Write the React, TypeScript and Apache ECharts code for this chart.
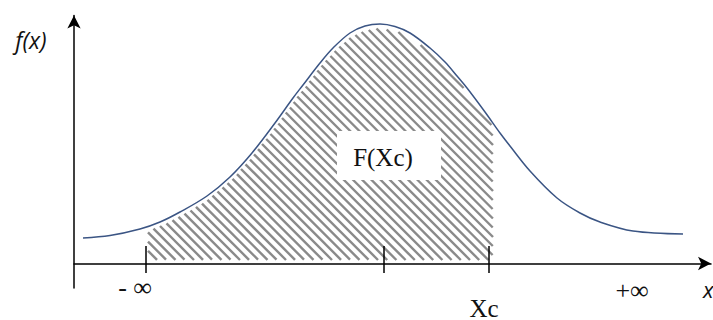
import React, { useEffect, useRef } from "react";
import * as echarts from "echarts";

// Density curve f(x), sampled along the horizontal axis.
const curveX = [9, 36, 66, 86, 106, 133, 156, 178, 201, 219, 229, 246, 259, 276, 291, 306, 321, 336, 356, 371, 383, 393, 411, 426, 436, 456, 483, 506, 526, 559, 609];
const curveY = [25.5, 28, 34.5, 41.5, 51.5, 67.5, 86.5, 110.5, 140.5, 165.5, 178.5, 200.5, 215.5, 230.5, 237.5, 239.5, 237, 230.5, 215.5, 201.5, 187.5, 175.5, 151.5, 130.5, 117.5, 92.5, 65.5, 50.5, 41.5, 32.5, 29.5];

// Tick marks on the x axis: -inf, mean, Xc
const tickValues = [71.7, 310, 414.7];
const tickTop = 17.5;
const tickBottom = -9.5;

// Shaded region F(Xc): from -inf up to Xc, under the curve
const hatchFrom = 74;
const hatchTo = 419;
const hatchBase = 3.5;
const hatchInset = 4;

const xMax = 637;
const yMin = -24.5;
const yMax = 248;

export default function App() {
  const ref = useRef<HTMLDivElement>(null);

  useEffect(() => {
    const chart = echarts.init(ref.current!, null, { renderer: "svg" });
    const curve = curveX.map((x, i) => [x, curveY[i]]);

    const renderHatch = (_params: any, api: any) => {
      const pts = curve.map((p) => api.coord(p));
      const yb = api.coord([0, hatchBase])[1];
      const xa = api.coord([hatchFrom, 0])[0];
      const xb = api.coord([hatchTo, 0])[0];
      const inset = api.coord([0, 0])[1] - api.coord([0, hatchInset])[1];
      const topAt = (px: number) => {
        for (let i = 0; i < pts.length - 1; i++) {
          const [x1, y1] = pts[i];
          const [x2, y2] = pts[i + 1];
          if (px >= x1 && px <= x2) {
            return y1 + ((y2 - y1) * (px - x1)) / (x2 - x1);
          }
        }
        return yb;
      };
      const minTop = Math.min(...pts.map((p: number[]) => p[1]));
      const h = yb - minTop;
      const period = 9.2;
      const children: any[] = [];
      const stripe = (a: number[], b: number[]) =>
        children.push({
          type: "line",
          shape: { x1: a[0], y1: a[1], x2: b[0], y2: b[1] },
          style: { stroke: "#8a8a8a", lineWidth: 2.4 },
        });
      for (let s = xa; s <= xb + h; s += period) {
        let start: number[] | null = null;
        let last: number[] | null = null;
        const from = Math.max(xa, s - h);
        const to = Math.min(xb, s);
        for (let px = from; px <= to + 1e-6; px += 0.5) {
          const py = yb - (s - px);
          if (py >= topAt(px) + inset) {
            if (!start) start = [px, py];
            last = [px, py];
          } else if (start && last) {
            stripe(start, last);
            start = null;
          }
        }
        if (start && last) stripe(start, last);
      }
      return { type: "group", children };
    };

    const axisLine = {
      show: true,
      onZero: true,
      symbol: ["none", "arrow"],
      symbolSize: [10, 13],
      lineStyle: { color: "#000", width: 1.5 },
    };

    const label = (text: string, x: number, y: number, font: string, align = "center") => ({
      type: "text",
      z: 101,
      style: {
        text,
        x,
        y,
        font,
        fill: "#111",
        textAlign: align,
        textVerticalAlign: "middle",
      },
    });

    chart.setOption({
      animation: false,
      grid: { left: 74, right: 2, top: 15.5, bottom: 32, containLabel: false },
      xAxis: {
        type: "value",
        min: 0,
        max: xMax,
        axisLine,
        axisTick: { show: false },
        axisLabel: { show: false },
        splitLine: { show: false },
      },
      yAxis: {
        type: "value",
        min: yMin,
        max: yMax,
        axisLine,
        axisTick: { show: false },
        axisLabel: { show: false },
        splitLine: { show: false },
      },
      series: [
        {
          type: "custom",
          data: [[0, 0]],
          silent: true,
          clip: false,
          z: 1,
          renderItem: renderHatch,
        },
        {
          type: "line",
          data: curve,
          smooth: 0.35,
          showSymbol: false,
          silent: true,
          z: 3,
          lineStyle: { color: "#3b5584", width: 1.5 },
          markLine: {
            silent: true,
            symbol: ["none", "none"],
            label: { show: false },
            lineStyle: { color: "#000", width: 1.5, type: "solid" },
            data: tickValues.map((v) => [
              { coord: [v, tickTop] },
              { coord: [v, tickBottom] },
            ]),
          },
        },
      ],
      graphic: [
        {
          type: "rect",
          z: 100,
          shape: { x: 337, y: 131, width: 104, height: 49 },
          style: { fill: "#fff" },
        },
        label("F(Xc)", 383, 157, '25px "Liberation Serif"'),
        label("f(x)", 31, 40, 'italic 23px "Open Sans"'),
        label("- ∞", 135, 287, '26px "Liberation Serif"'),
        label("Xc", 484, 308, '25px "Liberation Serif"'),
        label("+∞", 632, 290, '26px "Liberation Serif"'),
        label("x", 703, 289, 'italic 22px "Open Sans"', "left"),
      ],
    });

    return () => chart.dispose();
  }, []);

  return (
    <div
      ref={ref}
      style={{ position: "absolute", left: 0, top: 0, width: 713, height: 320, background: "#fff" }}
    />
  );
}
